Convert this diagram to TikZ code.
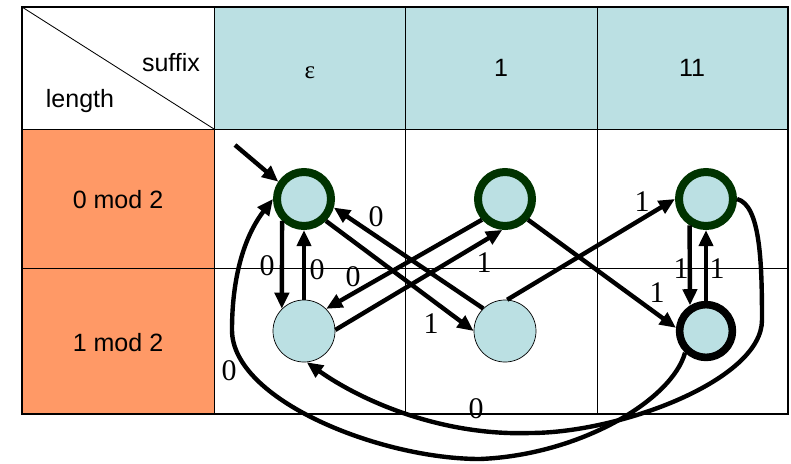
\documentclass[tikz,border=0pt]{standalone}
\usepackage{fontspec}
\setmainfont{Liberation Sans}
\newfontfamily\labelfont{Liberation Serif}
\usetikzlibrary{arrows.meta}
\definecolor{cellblue}{RGB}{187,224,227}
\definecolor{cellorange}{RGB}{255,153,102}
\definecolor{ringgreen}{RGB}{0,51,0}
\tikzset{
  accstate/.style={circle, draw=ringgreen, fill=cellblue, line width=0.2cm,
    minimum size=1.35cm, inner sep=0pt},
  plainstate/.style={circle, draw=black, fill=cellblue, line width=0.5pt,
    minimum size=1.55cm, inner sep=0pt},
  boldstate/.style={circle, draw=black, fill=cellblue, line width=0.19cm,
    minimum size=1.32cm, inner sep=0pt},
  arrow/.style={-{Triangle[length=11.5pt, width=10pt]}, line width=0.11cm, color=black},
  tabtext/.style={font=\fontsize{17.8}{20}\selectfont, inner sep=0pt},
  lbl/.style={font=\labelfont\fontsize{21.3}{24}\selectfont, inner sep=0pt},
  gridline/.style={line width=0.6pt, color=black},
  outerline/.style={line width=2pt, color=black}
}

\begin{document}
\begin{tikzpicture}[x=0.025cm, y=-0.025cm]
  \useasboundingbox (0,0) rectangle (791,463);

  % Table
  \fill[cellblue] (214,7) rectangle (788,129);
  \fill[cellorange] (22,129) rectangle (214,414);
  \foreach \x in {214,405,597}
    \draw[gridline] (\x,7) -- (\x,414);
  \foreach \y in {129,268}
    \draw[gridline] (22,\y) -- (788,\y);
  \draw[gridline] (22,7) -- (214,129);
  \draw[outerline] (22,7) rectangle (788,414);

  % Headers
  \node[tabtext] (hsuf) at (171,63) {suffix};
  \node[tabtext] (hlen) at (80,101) {length};
  \node[tabtext, font=\labelfont\fontsize{17.8}{20}\selectfont] (heps) at (310,73) {ε};
  \node[tabtext] (hone) at (501,68) {1};
  \node[tabtext] (htwo) at (692,68) {11};
  \node[tabtext] (hrow0) at (118,200) {0 mod 2};
  \node[tabtext] (hrow1) at (118,343) {1 mod 2};

  % States
  \node[accstate] (eps0) at (304,199) {};
  \node[plainstate] (eps1) at (304,331) {};
  \node[accstate] (one0) at (505,199) {};
  \node[plainstate] (one1) at (505,331) {};
  \node[accstate] (two0) at (706,199) {};
  \node[boldstate] (two1) at (706,331) {};

  % Start
  \coordinate (start) at (235,145);
  \draw[arrow] (start) -- (eps0.146);

  % Transitions
  \draw[arrow] (eps0.225) -- (eps1.135);
  \draw[arrow] (eps1.north) -- (eps0.south);
  \draw[arrow] (eps0.315) -- (one1.west);
  \draw[arrow] (one1.134) -- (eps0.344);
  \draw[arrow] (eps1.2) -- (one0.265);
  \draw[arrow] (one0.222) -- (eps1.45);
  \draw[arrow] (one0.318) -- (two1.174);
  \draw[arrow] (one1.86) -- (two0.west);
  \draw[arrow] (two0.238) -- (two1.122);
  \draw[arrow] (two1.north) -- (two0.south);
  \draw[arrow] (two0.east) .. controls (760,205) and (762,260) .. (762,320)
    .. controls (762,380) and (620,433) .. (530,433)
    .. controls (440,436) and (360,400) .. (eps1.275);
  \draw[arrow] (two1.226) .. controls (672,400) and (580,455) .. (480,459)
    .. controls (380,459) and (232,400) .. (232,330)
    .. controls (232,280) and (243,238) .. (eps0.west);

  % Labels
  \node[lbl] (l1) at (267,266) {0};
  \node[lbl] (l2) at (317,270) {0};
  \node[lbl] (l3) at (376,217) {0};
  \node[lbl] (l4) at (353,277) {0};
  \node[lbl] (l5) at (484,263) {1};
  \node[lbl] (l6) at (431,324) {1};
  \node[lbl] (l7) at (642,202) {1};
  \node[lbl] (l8) at (657,293) {1};
  \node[lbl] (l9) at (681,269) {1};
  \node[lbl] (l10) at (717,269) {1};
  \node[lbl] (l11) at (229,371) {0};
  \node[lbl] (l12) at (476,409) {0};
\end{tikzpicture}
\end{document}
